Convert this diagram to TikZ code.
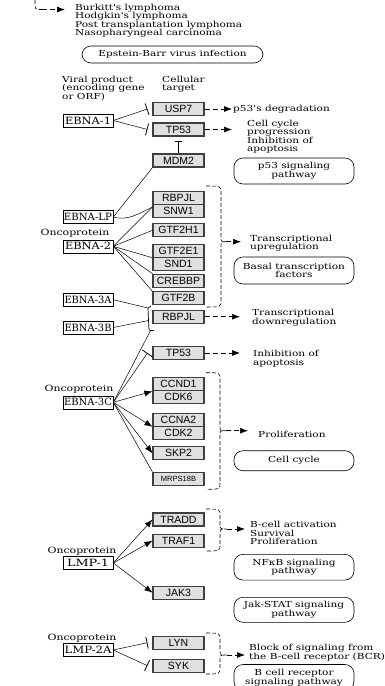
\documentclass[tikz,border=0pt]{standalone}
\usepackage{fontspec}
\setmainfont{DejaVu Serif}
\setsansfont{Liberation Sans}
\newfontfamily\widefam[FakeStretch=1.27]{DejaVu Serif}
\usetikzlibrary{arrows.meta,calc}
\newsavebox\fitbox
\newcommand\fitx[2]{\sbox\fitbox{#2}\pgfmathsetmacro\fxs{#1/\wd\fitbox}\scalebox{\fxs}[1]{\usebox\fitbox}}
\newcommand\lblfont{\widefam\fontsize{8.3}{8.6}\selectfont}
\newcommand\kbrace[6]{\draw[brace] (#1,#4) .. controls (#2,#4) .. (#2,#4+7) -- (#2,#5-5) .. controls (#2,#5) .. (#3,#5) .. controls (#2,#5) .. (#2,#5+5) -- (#2,#6-7) .. controls (#2,#6) .. (#1,#6);}
\tikzset{
  gene/.style={draw=black!75, line width=1.1pt, fill=black!12, minimum width=51pt, minimum height=13pt, inner sep=0pt, font=\sffamily\fontsize{10.5}{10.5}\selectfont},
  ebna/.style={draw, line width=0.6pt, fill=white, minimum width=50pt, minimum height=13pt, inner sep=0pt, font=\fontsize{10}{10}\selectfont},
  lbl/.style={font=\lblfont, align=left, inner sep=0pt, anchor=north west},
  onco/.style={font=\widefam\fontsize{8.6}{9}\selectfont, inner sep=0pt},
  pw/.style={draw, line width=0.6pt, rounded corners=9pt, minimum width=120pt, align=center, inner sep=0pt, font=\lblfont},
  con/.style={line width=0.5pt, black},
  act/.style={con, -{Latex[length=8pt,width=6pt]}},
  inh/.style={con, -{Bar[width=12pt,line width=0.8pt]}},
  darr/.style={line width=0.7pt, dash pattern=on 5pt off 3pt, -{Latex[length=8pt,width=6pt]}},
  brace/.style={line width=0.6pt, dash pattern=on 4pt off 2pt},
}
\begin{document}
\begin{tikzpicture}[x=1pt,y=-1pt]
\useasboundingbox (0,0) rectangle (384,686);

% ---- text labels
\node[lbl] (tdis) at (75,3.5) {Burkitt's lymphoma\\Hodgkin's lymphoma\\Post transplantation lymphoma\\Nasopharyngeal carcinoma};
\node[pw, minimum width=181pt, minimum height=17pt] (ebv) at (172.5,54.5) {Epstein-Barr virus infection};
\node[lbl] (tviral) at (62,75.5) {Viral product\\(encoding gene\\or ORF)};
\node[lbl] (tcell) at (162,75.5) {Cellular\\target};
\node[lbl] (tdeg) at (233,104.5) {p53's degradation};
\node[lbl] (tcc) at (247,119.5) {Cell cycle\\progression\\Inhibition of\\apoptosis};
\node[lbl] (tup) at (250,234.5) {Transcriptional\\upregulation};
\node[lbl] (tdown) at (252,309) {Transcriptional\\downregulation};
\node[lbl] (tapo) at (253,350) {Inhibition of\\apoptosis};
\node[lbl] (tprol) at (258,430.5) {Proliferation};
\node[lbl] (tbcell) at (250,521) {B-cell activation\\Survival\\Proliferation};
\node[lbl] (tblock) at (249,644) {Block of signaling from\\the B-cell receptor (BCR)};

% ---- pathway ovals
\node[pw, minimum height=26pt] (p53pw) at (294,171) {p53 signaling\\pathway};
\node[pw, minimum height=27pt] (basal) at (294,270.5) {Basal transcription\\factors};
\node[pw, minimum height=20pt] (ccyc) at (294,460.7) {Cell cycle};
\node[pw, minimum height=25.7pt] (nfkb) at (294,567.2) {NFκB signaling\\pathway};
\node[pw, minimum height=25pt] (jak) at (294,609.8) {Jak-STAT signaling\\pathway};
\node[pw, minimum height=26pt] (bcr) at (294,677.5) {B cell receptor\\signaling pathway};

% ---- oncoprotein labels
\node[onco] (o2) at (75,233) {Oncoprotein};
\node[onco] (o3c) at (79,389) {Oncoprotein};
\node[onco] (ol1) at (82,551) {Oncoprotein};
\node[onco] (ol2) at (82,638) {Oncoprotein};

% ---- viral products
\node[ebna] (e1) at (88,120.5) {\fitx{46}{EBNA-1}};
\node[ebna] (elp) at (88,217) {\fitx{48}{EBNA-LP}};
\node[ebna] (e2) at (88,246.3) {\fitx{46}{EBNA-2}};
\node[ebna] (e3a) at (88,299.7) {\fitx{47}{EBNA-3A}};
\node[ebna] (e3b) at (88,327.5) {\fitx{47}{EBNA-3B}};
\node[ebna] (e3c) at (88,402.3) {\fitx{48}{EBNA-3C}};
\node[ebna] (lmp1) at (88,563) {\fitx{42}{LMP-1}};
\node[ebna] (lmp2a) at (88,650) {\fitx{47}{LMP-2A}};

% ---- cellular targets
\node[gene] (usp7) at (178.5,109) {USP7};
\node[gene] (tp53a) at (178.5,129.5) {TP53};
\node[gene] (mdm2) at (178.5,160.5) {MDM2};
\node[gene] (rbpjla) at (178.5,198) {RBPJL};
\node[gene] (snw1) at (178.5,211) {SNW1};
\node[gene] (gtf2h1) at (178.5,230.3) {GTF2H1};
\node[gene] (gtf2e1) at (178.5,250.7) {GTF2E1};
\node[gene] (snd1) at (178.5,263.7) {SND1};
\node[gene] (crebbp) at (178.5,280.7) {CREBBP};
\node[gene] (gtf2b) at (178.5,298.3) {GTF2B};
\node[gene] (rbpjlb) at (178.5,316.7) {RBPJL};
\node[gene] (tp53b) at (178.5,353) {TP53};
\node[gene] (ccnd1) at (178.5,384.2) {CCND1};
\node[gene] (cdk6) at (178.5,397.2) {CDK6};
\node[gene] (ccna2) at (178.5,419.7) {CCNA2};
\node[gene] (cdk2) at (178.5,432.7) {CDK2};
\node[gene] (skp2) at (178.5,453.3) {SKP2};
\node[gene, font=\sffamily\fontsize{7.5}{7.5}\selectfont] (mrps) at (178.5,479) {MRPS18B};
\node[gene] (tradd) at (178.5,519.5) {TRADD};
\node[gene] (traf1) at (178.5,540.7) {TRAF1};
\node[gene] (jak3) at (178.5,592.7) {JAK3};
\node[gene] (lyn) at (178.5,642.7) {LYN};
\node[gene] (syk) at (178.5,665.7) {SYK};

% ---- EBNA-1
\draw[inh] (e1.east) -- ([xshift=-5pt]usp7.west);
\draw[inh] (e1.east) -- ([xshift=-5pt]tp53a.west);
\draw[con, -{Bar[width=7pt,line width=0.8pt]}] (mdm2.north) -- ([yshift=-4pt]tp53a.south);
\draw[darr] (usp7.east) -- ($(usp7.east -| tdeg.west)+(-1,0)$);
\draw[darr] (tp53a.east) -- ($(tp53a.east -| tcc.west)+(-15,0)$);

% ---- EBNA-LP
\draw[con] (elp.east) -- (mdm2.south west);
\draw[con] (elp.east) .. controls (128,221) and (138,214) .. ([yshift=-3pt]snw1.north west);

% ---- EBNA-2
\draw[con] (e2.east) -- ([yshift=-3pt]snw1.north west);
\draw[con] (e2.east) -- (gtf2h1.west);
\draw[con] (e2.east) -- (gtf2e1.south west);
\draw[con] (e2.east) -- (crebbp.north west);
\draw[con] (e2.east) -- (gtf2b.north west);

% ---- EBNA-3A/3B/3C on RBPJL
\coordinate (rbt) at (148,308);
\coordinate (rbm) at (148.5,320.5);
\coordinate (rbb) at (150.5,330.5);
\draw[con, line width=0.7pt] (151,306) -- (rbt) -- (rbm) -- (149,330) -- (rbb) -- (154,330.5);
\draw[con] (e3a.east) -- (rbt);
\draw[con] (e3b.east) -- (rbm);
\draw[con] (e3c.east) -- (rbb);
\draw[darr] (rbpjlb.east) -- ($(rbpjlb.east -| tdown.west)+(-12,0)$);

% ---- EBNA-3C
\draw[inh] (e3c.east) -- ([xshift=-5pt]tp53b.west);
\draw[darr] (tp53b.east) -- ($(tp53b.east -| tapo.west)+(-13,0)$);
\draw[act] (e3c.east) -- (ccnd1.south west);
\draw[act] (e3c.east) -- (ccna2.south west);
\draw[act] (e3c.east) -- (skp2.west);
\draw[con] (e3c.east) -- (mrps.north west);

% ---- LMP-1
\draw[act] (lmp1.east) -- (tradd.west);
\draw[act] (lmp1.east) -- (traf1.west);
\draw[act] (lmp1.east) -- (jak3.west);

% ---- LMP-2A
\draw[inh] (lmp2a.east) -- ([xshift=-5pt]lyn.west);
\draw[inh] (lmp2a.east) -- ([xshift=-5pt]syk.west);

% ---- braces
\draw[brace] (35,-6) -- (35,3) .. controls (35,9.5) .. (42,9.5);
\coordinate (b0) at (42,9.5);
\draw[darr] (b0) -- ($(b0 -| tdis.west)+(-10,0)$);

\kbrace{206}{221}{226}{186}{241.7}{307}
\coordinate (b1) at (226,241.7);
\draw[darr] (b1) -- ($(b1 -| tup.west)+(-9,0)$);

\kbrace{206}{220}{226}{372.7}{430.7}{489.3}
\coordinate (b2) at (226,430.7);
\draw[darr] (b2) -- ($(b2 -| tprol.west)+(-10,0)$);

\kbrace{206}{220}{226.7}{509}{529}{551}
\coordinate (b3) at (226.7,529);
\draw[darr] (b3) -- ($(b3 -| tbcell.west)+(-5,0)$);

\kbrace{206}{220}{226.7}{633}{655}{674}
\coordinate (b4) at (226.7,655);
\draw[darr] (b4) -- ($(b4 -| tblock.west)+(-4,0)$);
\end{tikzpicture}
\end{document}
